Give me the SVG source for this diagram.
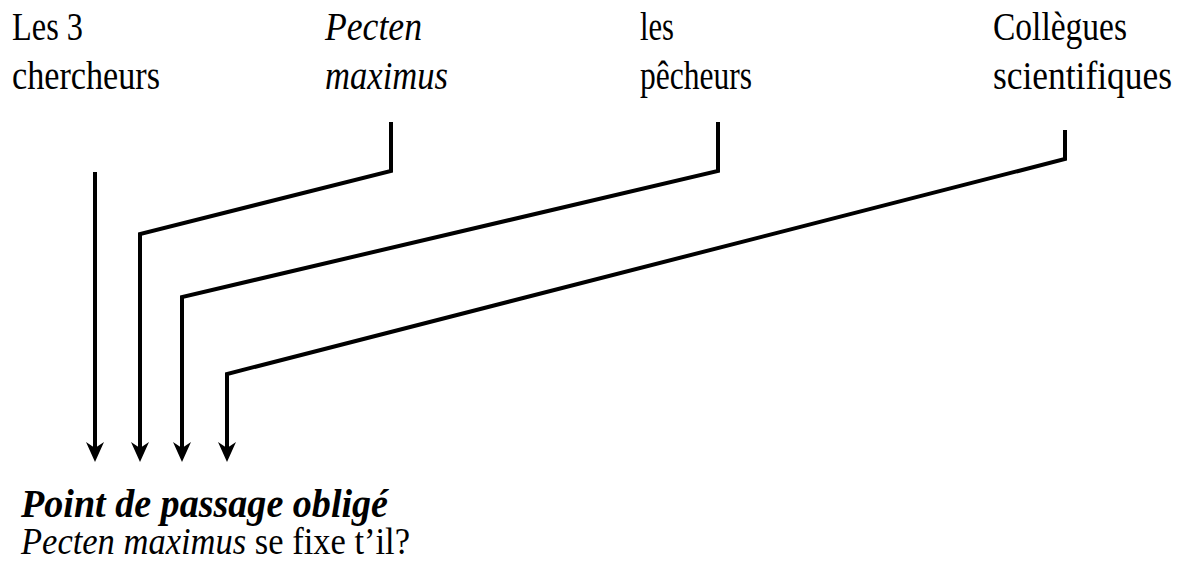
<svg xmlns="http://www.w3.org/2000/svg" width="1180" height="570" viewBox="0 0 1180 570">
<style>
.t{font-family:"Liberation Serif","Times New Roman",serif;font-size:40px;fill:#000}
.i{font-style:italic}
.b{font-weight:bold}
.c{fill:none;stroke:#000;stroke-width:4;stroke-linejoin:miter}
</style>
<defs>
<marker id="ah" markerUnits="userSpaceOnUse" markerWidth="22" markerHeight="20" viewBox="0 -10 22 20" refX="13" refY="0" orient="auto" overflow="visible">
<path d="M0,-9 L20,0 L0,9 L6,0 z" fill="#000"/>
</marker>
</defs>
<rect width="1180" height="570" fill="#fff"/>
<g id="n1">
<text class="t" x="12" y="40" textLength="71" lengthAdjust="spacingAndGlyphs">Les 3</text>
<text class="t" x="12" y="89" textLength="148" lengthAdjust="spacingAndGlyphs">chercheurs</text>
</g>
<g id="n2">
<text class="t i" x="325" y="40" textLength="97" lengthAdjust="spacingAndGlyphs">Pecten</text>
<text class="t i" x="325" y="89" textLength="123" lengthAdjust="spacingAndGlyphs">maximus</text>
</g>
<g id="n3">
<text class="t" x="640" y="40" textLength="34" lengthAdjust="spacingAndGlyphs">les</text>
<text class="t" x="640" y="89" textLength="112" lengthAdjust="spacingAndGlyphs">pêcheurs</text>
</g>
<g id="n4">
<text class="t" x="993" y="40" textLength="134" lengthAdjust="spacingAndGlyphs">Collègues</text>
<text class="t" x="993" y="89" textLength="179" lengthAdjust="spacingAndGlyphs">scientifiques</text>
</g>
<g id="n5">
<text class="t i b" x="21" y="517" style="font-size:41px" textLength="367" lengthAdjust="spacingAndGlyphs">Point de passage obligé</text>
<text class="t" x="21" y="554" style="font-size:37px" textLength="389" lengthAdjust="spacingAndGlyphs"><tspan class="i">Pecten maximus</tspan> se fixe t’il?</text>
</g>
<g id="connectors">
<path class="c" d="M95,172 V455" marker-end="url(#ah)"/>
<path class="c" d="M391,122 V171 L140,234 V455" marker-end="url(#ah)"/>
<path class="c" d="M718,122 V171 L182,297 V455" marker-end="url(#ah)"/>
<path class="c" d="M1065,130 V159 L227,374 V455" marker-end="url(#ah)"/>
</g>
</svg>
